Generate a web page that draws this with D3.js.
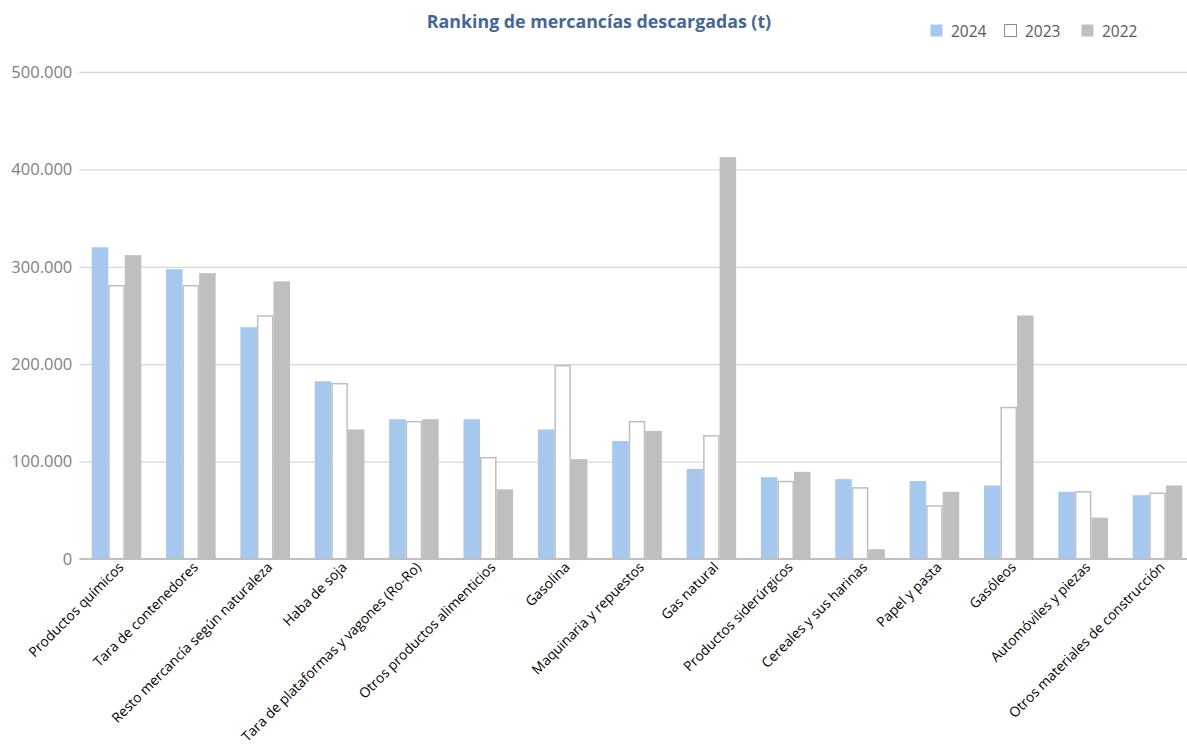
<!DOCTYPE html>
<html><head><meta charset="utf-8">
<script src="https://cdn.jsdelivr.net/npm/d3@7"></script>
<style>
html,body{margin:0;padding:0;background:#fff;}
svg{display:block;font-family:"Open Sans",sans-serif;}
</style></head>
<body><svg id="c" width="1187" height="751"></svg>
<script>
const categories = ["Productos químicos","Tara de contenedores","Resto mercancía según naturaleza","Haba de soja","Tara de plataformas y vagones (Ro-Ro)","Otros productos alimenticios","Gasolina","Maquinaria y repuestos","Gas natural","Productos siderúrgicos","Cereales y sus harinas","Papel y pasta","Gasóleos","Automóviles y piezas","Otros materiales de construcción"];
const series = ["2024","2023","2022"];
const v2024 = [320000,297500,238000,182500,143500,143500,133000,121000,92500,84000,82000,80000,75500,69000,65500];
const v2023 = [280500,280500,249500,180000,141000,104000,198500,141000,126500,79500,73000,54500,155500,69000,67500];
const v2022 = [312000,293500,285000,133000,143500,71500,102500,131500,412500,89500,10000,69000,250000,42500,75500];
const yTicks = [0,100000,200000,300000,400000,500000];
const title = "Ranking de mercancías descargadas (t)";

(function(){
const values = {"2024":v2024,"2023":v2023,"2022":v2022};
const fills = {"2024":"#a7c8ee","2023":"#ffffff","2022":"#bfbfbf"};
const strokes = {"2024":"none","2023":"#bfbfbf","2022":"none"};

const svg = d3.select("#c");
const pLeft = 79.3, pRight = 1194.7, pTop = 72, pBottom = 559;
const y = d3.scaleLinear().domain([0,500000]).range([pBottom, pTop]);
const x = d3.scaleBand().domain(categories).range([pLeft, pRight]).paddingInner(0.333).paddingOuter(0.1667);
const xs = d3.scaleBand().domain(series).range([0, x.bandwidth()]);
const loc = d3.formatLocale({decimal:",", thousands:".", grouping:[3], currency:["","€"]});
const fmt = loc.format(",");

const yAxis = d3.axisLeft(y).tickValues(yTicks).tickFormat(fmt).tickSize(-(pRight-pLeft)).tickPadding(7);
const ga = svg.append("g").attr("transform",`translate(${pLeft},0)`).call(yAxis);
ga.select(".domain").remove();
ga.selectAll(".tick line").attr("stroke","#d9d9d9").attr("stroke-width",1.3);
ga.selectAll(".tick text").attr("fill","#7f7f7f").attr("font-size",16.5).attr("font-family","Open Sans");
ga.selectAll(".tick").filter(d=>d===0).select("line").remove();

const groups = svg.append("g").selectAll("g").data(categories).join("g")
  .attr("transform", d=>`translate(${x(d)},0)`);
series.forEach(s=>{
  groups.append("rect")
    .attr("x", xs(s) + (s==="2023"?0.75:0))
    .attr("width", xs.bandwidth() - (s==="2023"?1.5:0))
    .attr("y", (d,i)=>y(values[s][i]))
    .attr("height", (d,i)=>pBottom - y(values[s][i]))
    .attr("fill", fills[s])
    .attr("stroke", strokes[s])
    .attr("stroke-width", 1.5);
});

svg.append("line").attr("x1",pLeft).attr("x2",pRight).attr("y1",y(0)).attr("y2",y(0))
  .attr("stroke","#bfbfbf").attr("stroke-width",2.2);

const xAxis = d3.axisBottom(x).tickSize(0).tickPadding(0);
const gx = svg.append("g").attr("transform",`translate(0,${pBottom})`).call(xAxis);
gx.select(".domain").remove();
gx.selectAll(".tick text")
  .attr("font-size",13.8).attr("font-family","Open Sans").attr("fill","#000")
  .attr("text-anchor","end").attr("dy",0).attr("y",0)
  .attr("transform","translate(8,9) rotate(-45)");

svg.append("text").attr("x",599).attr("y",28).attr("text-anchor","middle")
  .attr("font-size",17.8).attr("font-weight","bold").attr("fill","#44679a").text(title);

const lx = [930,1004,1081];
const lg = svg.append("g");
series.forEach((s,i)=>{
  lg.append("rect").attr("x",lx[i]+0.5).attr("y",24.5).attr("width",12).attr("height",12)
    .attr("fill",fills[s]).attr("stroke", s==="2023"?"#8c8c8c":"none").attr("stroke-width",1);
  lg.append("text").attr("x",lx[i]+21).attr("y",37).attr("font-size",15.5).attr("fill","#595959").text(s);
});
})();
</script></body></html>
